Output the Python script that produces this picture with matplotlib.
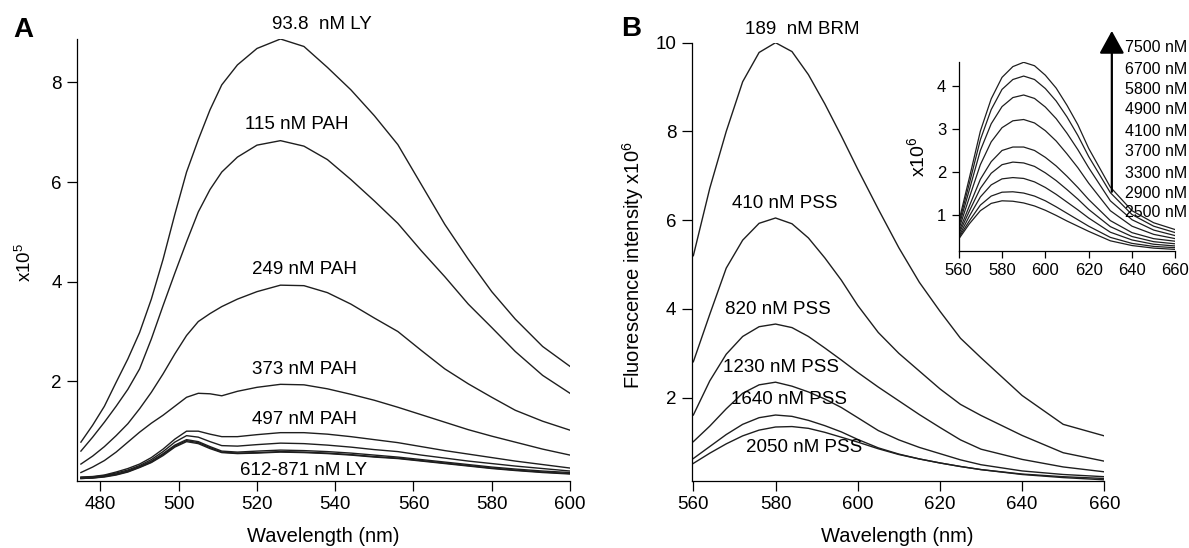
import matplotlib
matplotlib.use('Agg')
import matplotlib.pyplot as plt

plt.rcParams['font.family'] = ['Liberation Sans', 'DejaVu Sans']
plt.rcParams['mathtext.fontset'] = 'custom'
plt.rcParams['mathtext.rm'] = 'Liberation Sans'
plt.rcParams['mathtext.it'] = 'Liberation Sans:italic'

# ---- panel A data (x10^5) ----
wl_a = [475, 478, 481, 484, 487, 490, 493, 496, 499, 502, 505, 508, 511, 515, 520, 526,
        532, 538, 544, 550, 556, 562, 568, 574, 580, 586, 593, 600]
ly_93 = [0.78, 1.12, 1.50, 1.98, 2.45, 2.98, 3.65, 4.45, 5.35, 6.20, 6.85, 7.45, 7.95, 8.35, 8.68, 8.87,
         8.72, 8.30, 7.85, 7.33, 6.75, 5.95, 5.15, 4.45, 3.80, 3.25, 2.70, 2.30]
pah_115 = [0.60, 0.88, 1.18, 1.50, 1.84, 2.25, 2.85, 3.52, 4.17, 4.80, 5.40, 5.85, 6.20, 6.50, 6.74, 6.83,
           6.72, 6.45, 6.05, 5.62, 5.17, 4.62, 4.10, 3.55, 3.08, 2.60, 2.12, 1.76]
pah_249 = [0.34, 0.50, 0.69, 0.91, 1.15, 1.45, 1.78, 2.15, 2.55, 2.92, 3.20, 3.36, 3.50, 3.65, 3.80, 3.93,
           3.92, 3.78, 3.55, 3.27, 3.00, 2.62, 2.25, 1.95, 1.68, 1.42, 1.20, 1.02]
pah_373 = [0.17, 0.28, 0.41, 0.58, 0.78, 0.98, 1.16, 1.32, 1.50, 1.68, 1.76, 1.75, 1.71, 1.80, 1.88, 1.94,
           1.93, 1.85, 1.74, 1.62, 1.48, 1.33, 1.18, 1.03, 0.90, 0.78, 0.64, 0.52]
pah_497 = [0.08, 0.09, 0.12, 0.18, 0.25, 0.34, 0.47, 0.64, 0.84, 1.00, 1.00, 0.94, 0.89, 0.89, 0.93, 0.97,
           0.97, 0.94, 0.89, 0.83, 0.77, 0.69, 0.61, 0.54, 0.47, 0.40, 0.33, 0.26]
ly_612 = [0.07, 0.08, 0.11, 0.16, 0.22, 0.31, 0.43, 0.59, 0.78, 0.91, 0.88, 0.79, 0.71, 0.70, 0.73, 0.76,
          0.75, 0.72, 0.68, 0.63, 0.59, 0.52, 0.46, 0.40, 0.35, 0.30, 0.25, 0.20]
ly_700 = [0.06, 0.07, 0.10, 0.14, 0.20, 0.29, 0.40, 0.55, 0.72, 0.83, 0.79, 0.69, 0.60, 0.58, 0.60, 0.62,
          0.61, 0.59, 0.56, 0.52, 0.48, 0.43, 0.38, 0.33, 0.28, 0.24, 0.20, 0.17]
ly_790 = [0.05, 0.06, 0.09, 0.13, 0.19, 0.28, 0.38, 0.53, 0.70, 0.81, 0.77, 0.67, 0.58, 0.56, 0.57, 0.59,
          0.58, 0.56, 0.53, 0.49, 0.46, 0.41, 0.36, 0.31, 0.26, 0.22, 0.18, 0.15]
ly_871 = [0.05, 0.06, 0.08, 0.12, 0.18, 0.27, 0.37, 0.51, 0.68, 0.79, 0.75, 0.65, 0.57, 0.55, 0.56, 0.58,
          0.57, 0.55, 0.52, 0.48, 0.45, 0.40, 0.35, 0.30, 0.25, 0.21, 0.17, 0.14]
curves_a = [ly_93, pah_115, pah_249, pah_373, pah_497, ly_612, ly_700, ly_790, ly_871]
labels_a = ['93.8  nM LY', '115 nM PAH', '249 nM PAH', '373 nM PAH', '497 nM PAH', '612-871 nM LY']
label_pos_a = [(536.6, 9.16), (530.2, 7.15), (532.1, 4.24), (532.1, 2.24), (532.1, 1.24), (531.9, 0.22)]

# ---- panel B data (x10^6) ----
wl_b = [560, 564, 568, 572, 576, 580, 584, 588, 592, 596, 600, 605, 610, 615, 620, 625, 630, 640, 650, 660]
brm_189 = [5.20, 6.72, 8.00, 9.12, 9.78, 10.00, 9.80, 9.28, 8.62, 7.90, 7.15, 6.25, 5.38, 4.60, 3.95, 3.34, 2.90, 2.05, 1.40, 1.14]
pss_410 = [2.81, 3.88, 4.92, 5.55, 5.93, 6.05, 5.92, 5.60, 5.15, 4.65, 4.08, 3.47, 3.00, 2.60, 2.20, 1.85, 1.60, 1.15, 0.76, 0.57]
pss_820 = [1.61, 2.38, 2.98, 3.38, 3.60, 3.66, 3.58, 3.38, 3.12, 2.85, 2.57, 2.24, 1.93, 1.62, 1.33, 1.05, 0.84, 0.61, 0.44, 0.33]
pss_1230 = [1.01, 1.36, 1.75, 2.10, 2.29, 2.35, 2.26, 2.13, 1.97, 1.78, 1.55, 1.26, 1.05, 0.88, 0.74, 0.60, 0.49, 0.35, 0.27, 0.22]
pss_1640 = [0.63, 0.90, 1.17, 1.40, 1.55, 1.61, 1.58, 1.49, 1.37, 1.23, 1.06, 0.87, 0.73, 0.62, 0.53, 0.45, 0.38, 0.28, 0.22, 0.18]
pss_2050 = [0.52, 0.75, 0.96, 1.14, 1.27, 1.34, 1.35, 1.31, 1.22, 1.11, 1.00, 0.85, 0.72, 0.62, 0.53, 0.45, 0.38, 0.27, 0.20, 0.15]
curves_b = [brm_189, pss_410, pss_820, pss_1230, pss_1640, pss_2050]
labels_b = ['189  nM BRM', '410 nM PSS', '820 nM PSS', '1230 nM PSS', '1640 nM PSS', '2050 nM PSS']
label_pos_b = [(586.6, 10.30), (582.3, 6.38), (580.5, 3.99), (581.3, 2.68), (583.2, 1.95), (587.0, 0.88)]

# ---- inset data (x10^6) ----
wl_in = [560, 565, 570, 575, 580, 585, 590, 595, 600, 605, 610, 615, 620, 630, 640, 650, 660]
in_7500 = [0.84, 1.88, 2.95, 3.70, 4.20, 4.45, 4.55, 4.47, 4.25, 3.95, 3.55, 3.10, 2.55, 1.65, 1.10, 0.82, 0.66]
in_6700 = [0.78, 1.75, 2.75, 3.45, 3.92, 4.15, 4.23, 4.15, 3.94, 3.65, 3.28, 2.85, 2.36, 1.52, 1.01, 0.74, 0.59]
in_5800 = [0.72, 1.60, 2.50, 3.12, 3.52, 3.73, 3.79, 3.71, 3.51, 3.24, 2.90, 2.52, 2.10, 1.33, 0.89, 0.65, 0.52]
in_4900 = [0.66, 1.42, 2.17, 2.70, 3.03, 3.19, 3.22, 3.14, 2.96, 2.72, 2.42, 2.10, 1.74, 1.10, 0.74, 0.55, 0.45]
in_4100 = [0.60, 1.22, 1.83, 2.24, 2.50, 2.58, 2.58, 2.50, 2.34, 2.14, 1.90, 1.64, 1.36, 0.87, 0.59, 0.45, 0.39]
in_3700 = [0.55, 1.10, 1.62, 1.97, 2.17, 2.23, 2.21, 2.13, 1.98, 1.80, 1.59, 1.37, 1.13, 0.73, 0.50, 0.38, 0.33]
in_3300 = [0.50, 0.98, 1.42, 1.70, 1.84, 1.87, 1.85, 1.77, 1.64, 1.48, 1.30, 1.12, 0.93, 0.60, 0.42, 0.32, 0.28]
in_2900 = [0.47, 0.87, 1.23, 1.44, 1.53, 1.54, 1.51, 1.44, 1.33, 1.19, 1.04, 0.89, 0.74, 0.48, 0.34, 0.27, 0.24]
in_2500 = [0.44, 0.80, 1.10, 1.27, 1.33, 1.32, 1.28, 1.21, 1.11, 0.99, 0.86, 0.74, 0.62, 0.40, 0.29, 0.23, 0.20]
curves_in = [in_7500, in_6700, in_5800, in_4900, in_4100, in_3700, in_3300, in_2900, in_2500]
labels_in = ['7500 nM', '6700 nM', '5800 nM', '4900 nM', '4100 nM', '3700 nM', '3300 nM', '2900 nM', '2500 nM']
label_y_in = [48, 69, 90, 110, 131, 152, 173, 193, 213]

W, H = 1189, 548
line_c = '#1e1e1e'


def fx(px):
    return px / W


def fy(py):
    return 1 - py / H


def style_axes(ax, size, length):
    for s in ['top', 'right']:
        ax.spines[s].set_visible(False)
    for s in ['left', 'bottom']:
        ax.spines[s].set_linewidth(0.9)
    ax.tick_params(direction='out', length=length, width=0.9, labelsize=size, pad=4)


fig = plt.figure(figsize=(W / 100, H / 100), dpi=100)

# panel A
axa = fig.add_axes([fx(77), fy(481), fx(570) - fx(77), fy(39) - fy(481)])
for c in curves_a:
    axa.plot(wl_a, c, color=line_c, lw=1.0)
axa.set_xlim(474, 600)
axa.set_ylim(0, 8.87)
axa.set_xticks([480, 500, 520, 540, 560, 580, 600])
axa.set_yticks([2, 4, 6, 8])
style_axes(axa, 13.5, 7)
for t, (x, y) in zip(labels_a, label_pos_a):
    axa.text(x, y, t, ha='center', va='center', fontsize=13.5, clip_on=False)

# panel B
axb = fig.add_axes([fx(691.7), fy(480.7), fx(1104.3) - fx(691.7), fy(42.7) - fy(480.7)])
for c in curves_b:
    axb.plot(wl_b, c, color=line_c, lw=1.0)
axb.set_xlim(559.6, 660)
axb.set_ylim(0.13, 10.0)
axb.set_xticks([560, 580, 600, 620, 640, 660])
axb.set_yticks([2, 4, 6, 8, 10])
style_axes(axb, 13.5, 7)
for t, (x, y) in zip(labels_b, label_pos_b):
    axb.text(x, y, t, ha='center', va='center', fontsize=13.5, clip_on=False)

# inset
axi = fig.add_axes([fx(958.7), fy(250.7), fx(1175.3) - fx(958.7), fy(62.3) - fy(250.7)])
axi.patch.set_alpha(0)
for c in curves_in:
    axi.plot(wl_in, c, color=line_c, lw=0.9)
axi.set_xlim(560, 660)
axi.set_ylim(0.17, 4.55)
axi.set_xticks([560, 580, 600, 620, 640, 660])
axi.set_yticks([1, 2, 3, 4])
style_axes(axi, 12, 5)
axi.annotate('', xy=(630.7, 5.28), xytext=(630.7, 1.54), xycoords='data',
             arrowprops=dict(arrowstyle='-|>,head_length=1.0,head_width=0.55', color='black', lw=1.6,
                             mutation_scale=14, shrinkA=0, shrinkB=0),
             annotation_clip=False)
for t, y in zip(labels_in, label_y_in):
    fig.text(fx(1187), fy(y), t, ha='right', va='center', fontsize=11.5)

# labels
fig.text(fx(23), fy(30), 'A', fontsize=20, fontweight='bold', ha='center', va='center')
fig.text(fx(631), fy(29), 'B', fontsize=20, fontweight='bold', ha='center', va='center')
fig.text(fx(25), fy(262), 'x10$^5$', fontsize=13.5, rotation=90, ha='center', va='center')
fig.text(fx(633), fy(265), 'Fluorescence intensity x10$^6$', fontsize=14.5, rotation=90, ha='center', va='center')
fig.text(fx(917), fy(157), 'x10$^6$', fontsize=14, rotation=90, ha='center', va='center')
fig.text(fx(323), fy(537), 'Wavelength (nm)', fontsize=14.5, ha='center', va='center')
fig.text(fx(897), fy(537), 'Wavelength (nm)', fontsize=14.5, ha='center', va='center')

fig.savefig('out.png', dpi=100)
